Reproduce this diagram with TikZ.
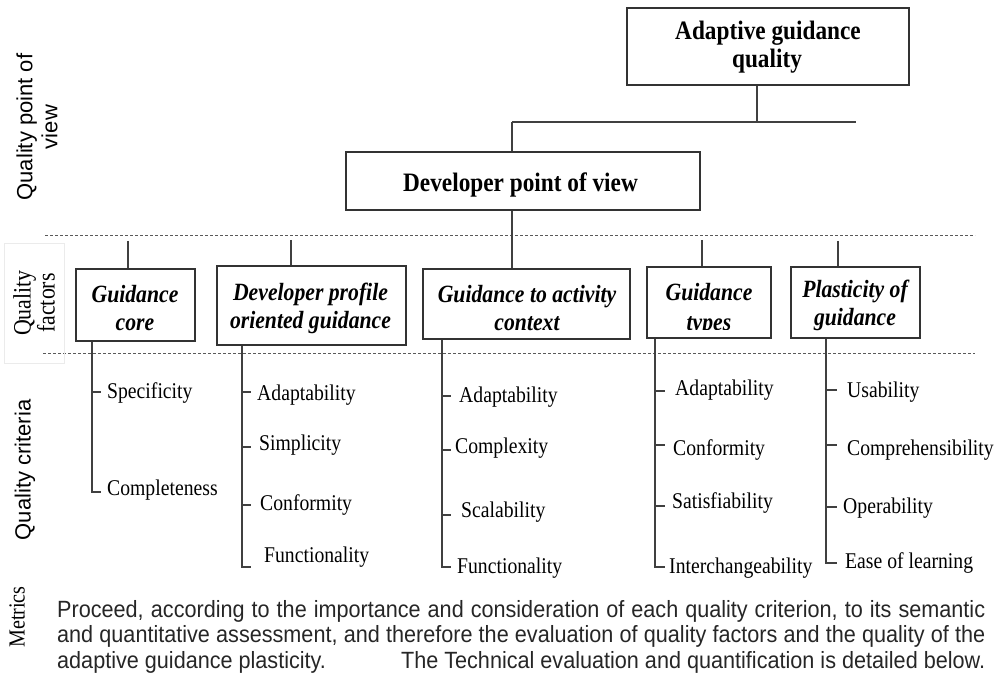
\documentclass[tikz,border=0pt]{standalone}
\usepackage{fontspec}
\setmainfont[FakeStretch=0.875]{Liberation Serif}
\newfontfamily\labelsans{Liberation Sans}
\newfontfamily\bodysans[FakeStretch=0.92]{Liberation Sans}
\begin{document}
\begin{tikzpicture}[x=1pt,y=-1pt,
  boxline/.style={draw=black!80, line width=1.6pt, fill=white, inner sep=0pt},
  link/.style={draw=black!75, line width=1.6pt},
  sep/.style={draw=black!65, line width=0.8pt, dash pattern=on 3pt off 2pt},
  headtext/.style={font=\fontsize{26.6}{28}\bfseries\selectfont, anchor=base, inner sep=0pt},
  factext/.style={font=\fontsize{24.8}{28}\bfseries\itshape\selectfont, anchor=base, inner sep=0pt},
  crit/.style={font=\fontsize{22.5}{24}\selectfont, anchor=base west, inner sep=0pt},
  sidesans/.style={font=\labelsans\fontsize{22}{25}\selectfont, rotate=90, align=center, inner sep=0pt},
  sideserif/.style={font=\fontsize{25}{24}\selectfont, rotate=90, align=center, inner sep=0pt}
]
\useasboundingbox (0,0) rectangle (997,682);

% --- row separators ---
\coordinate (sepAL) at (45,235);  \coordinate (sepAR) at (975,235);
\coordinate (sepBL) at (43,353);  \coordinate (sepBR) at (975,353);
\draw[sep] (sepAL) -- (sepAR);
\draw[sep] (sepBL) -- (sepBR);

% --- row labels ---
\node[sidesans] (lblview) at (37,127) {Quality point of\\view};
\draw[black!8, line width=0.8pt] (4,243) rectangle (64,363);
\node[sideserif] (lblfac) at (34,303) {Quality\\factors};
\node[sidesans] (lblcrit) at (25,470) {Quality criteria};
\node[font=\fontsize{23}{24}\selectfont, rotate=90, inner sep=0pt] (lblmet) at (17,617) {Metrics};

% --- upper boxes ---
\node[boxline, minimum width=282pt, minimum height=77pt] (top) at (768,46.5) {};
\node[headtext] (topA) at (768,40) {Adaptive guidance};
\node[headtext] (topB) at (767,68) {quality};

\node[boxline, minimum width=354pt, minimum height=58pt] (dev) at (523,181) {};
\node[headtext] (devT) at (520.5,192) {Developer point of view};

% --- quality factor boxes ---
\node[boxline, minimum width=119pt, minimum height=72pt] (f1) at (135.5,305) {};
\node[boxline, minimum width=189pt, minimum height=79pt] (f2) at (311.5,305.5) {};
\node[boxline, minimum width=207pt, minimum height=70pt] (f3) at (526.5,304) {};
\node[boxline, minimum width=124pt, minimum height=71pt] (f4) at (709,302.5) {};
\node[boxline, minimum width=129pt, minimum height=71pt] (f5) at (855.5,302.5) {};

\node[factext] (f1a) at (135,302) {Guidance};
\node[factext] (f1b) at (135,330) {core};
\node[factext] (f2a) at (310.5,300) {Developer profile};
\node[factext] (f2b) at (310.5,328) {oriented guidance};
\node[factext] (f3a) at (527,302) {Guidance to activity};
\node[factext] (f3b) at (527,330) {context};
\node[factext] (f4a) at (709,300) {Guidance};
\begin{scope}
  \clip (f4.north west) rectangle ([yshift=9pt]f4.south east);
  \node[factext] (f4b) at (709,330) {types};
\end{scope}
\node[factext] (f5a) at (855,298) {Plasticity of};
\node[factext] (f5b) at (855,325) {guidance};

% --- hierarchy connectors ---
\coordinate (jt) at (757,122);
\coordinate (jl) at (512,122);
\coordinate (jr) at (856,122);
\draw[link] (top.south -| jt) -- (jt);
\draw[link] (jl) -- (jr);
\draw[link] (jl) -- (jl |- dev.north);
\draw[link] (dev.south -| jl) -- (jl |- f3.north);

\coordinate (s1) at (128,241);
\coordinate (s2) at (291,240);
\coordinate (s4) at (702,240);
\coordinate (s5) at (838,241);
\draw[link] (s1) -- (s1 |- f1.north);
\draw[link] (s2) -- (s2 |- f2.north);
\draw[link] (s4) -- (s4 |- f4.north);
\draw[link] (s5) -- (s5 |- f5.north);

% --- criteria trees ---
% Guidance core
\coordinate (g1) at (92,492);
\draw[link] (f1.south -| g1) -- (g1) -- ++(9,0);
\draw[link] (92,392) -- ++(9,0);
\node[crit] (c11) at (107,398) {Specificity};
\node[crit] (c12) at (107,495) {Completeness};

% Developer profile oriented guidance
\coordinate (g2) at (242,567);
\draw[link] (f2.south -| g2) -- (g2) -- ++(9,0);
\draw[link] (242,392) -- ++(9,0);
\draw[link] (242,447) -- ++(9,0);
\draw[link] (242,505) -- ++(9,0);
\node[crit] (c21) at (257,400) {Adaptability};
\node[crit] (c22) at (259,450) {Simplicity};
\node[crit] (c23) at (260,510) {Conformity};
\node[crit] (c24) at (264,562) {Functionality};

% Guidance to activity context
\coordinate (g3) at (442,567);
\draw[link] (f3.south -| g3) -- (g3) -- ++(9,0);
\draw[link] (442,396) -- ++(9,0);
\draw[link] (442,450) -- ++(9,0);
\draw[link] (442,515) -- ++(9,0);
\node[crit] (c31) at (459,402) {Adaptability};
\node[crit] (c32) at (455,453) {Complexity};
\node[crit] (c33) at (461,517) {Scalability};
\node[crit] (c34) at (457,573) {Functionality};

% Guidance types
\coordinate (g4) at (655,567);
\draw[link] (f4.south -| g4) -- (g4) -- ++(10,0);
\draw[link] (655,391) -- ++(10,0);
\draw[link] (655,445) -- ++(10,0);
\draw[link] (655,506) -- ++(10,0);
\node[crit] (c41) at (675,395) {Adaptability};
\node[crit] (c42) at (673,455) {Conformity};
\node[crit] (c43) at (672,508) {Satisfiability};
\node[crit] (c44) at (669,573) {Interchangeability};

% Plasticity of guidance
\coordinate (g5) at (826,563);
\draw[link] (f5.south -| g5) -- (g5) -- ++(11,0);
\draw[link] (826,390) -- ++(11,0);
\draw[link] (826,445) -- ++(11,0);
\draw[link] (826,507) -- ++(11,0);
\node[crit] (c51) at (847,397) {Usability};
\node[crit] (c52) at (847,455) {Comprehensibility};
\node[crit] (c53) at (843,513) {Operability};
\node[crit] (c54) at (845,568) {Ease of learning};

% --- metrics paragraph ---
\node[anchor=north west, inner sep=0pt, text width=928pt, align=justify,
      font=\bodysans\fontsize{23.5}{25.5}\selectfont, text=black!85] (metrics) at (57,600)
  {\parfillskip=0pt Proceed, according to the importance and consideration of each quality criterion, to its semantic\linebreak
   and quantitative assessment, and therefore the evaluation of quality factors and the quality of the\linebreak
   adaptive guidance plasticity.\hfill The Technical evaluation and quantification is detailed below.};
\end{tikzpicture}
\end{document}
